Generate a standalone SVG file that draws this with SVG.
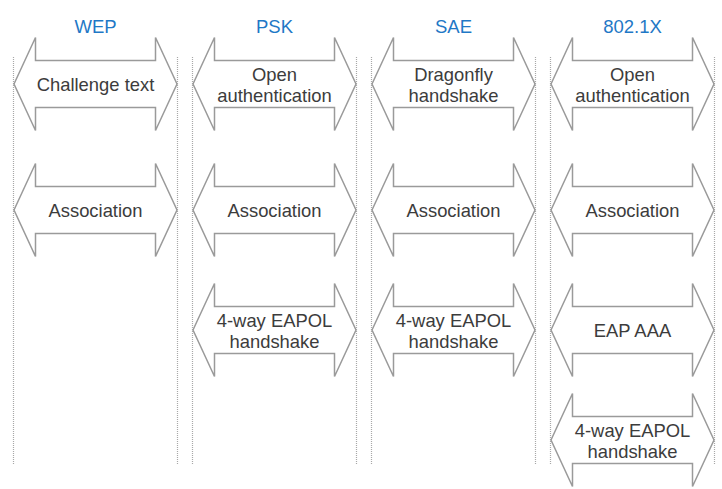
<svg xmlns="http://www.w3.org/2000/svg" width="722" height="489" viewBox="0 0 722 489">
<defs>
<style>
.bg{fill:#ffffff}
.lane{stroke:#a8a8a8;stroke-width:1.2;stroke-dasharray:1 1;fill:none}
.arrow{fill:#ffffff;stroke:#9a9a9a;stroke-width:1.5;stroke-linejoin:miter}
.title{font-family:"Liberation Sans",Arial,sans-serif;font-size:18.5px;fill:#1f78c6;text-anchor:middle}
.lbl{font-family:"Liberation Sans",Arial,sans-serif;font-size:18.4px;fill:#3c3c3c;text-anchor:middle}
</style>
<path id="arr" d="M0,0 L21.5,-46.5 L21.5,-23.5 L141.5,-23.5 L141.5,-46.5 L163,0 L141.5,46.5 L141.5,23.5 L21.5,23.5 L21.5,46.5 Z"/>
</defs>
<rect class="bg" x="0" y="0" width="722" height="489"/>
<g id="lanes">
<line class="lane" x1="13.5" y1="57" x2="13.5" y2="465"/>
<line class="lane" x1="177.5" y1="57" x2="177.5" y2="465"/>
<line class="lane" x1="192.5" y1="57" x2="192.5" y2="465"/>
<line class="lane" x1="356.5" y1="57" x2="356.5" y2="465"/>
<line class="lane" x1="371.5" y1="57" x2="371.5" y2="465"/>
<line class="lane" x1="535.5" y1="57" x2="535.5" y2="465"/>
<line class="lane" x1="550.5" y1="57" x2="550.5" y2="465"/>
<line class="lane" x1="714.5" y1="57" x2="714.5" y2="465"/>
</g>
<g id="titles">
<text class="title" x="95.5" y="33">WEP</text>
<text class="title" x="274.5" y="33">PSK</text>
<text class="title" x="453.5" y="33">SAE</text>
<text class="title" x="632.5" y="33">802.1X</text>
</g>
<g id="wep-challenge"><use href="#arr" class="arrow" x="14" y="84"/><text class="lbl" x="95.5" y="90.5">Challenge text</text></g>
<g id="wep-assoc"><use href="#arr" class="arrow" x="14" y="210"/><text class="lbl" x="95.5" y="216.5">Association</text></g>
<g id="psk-open"><use href="#arr" class="arrow" x="193" y="84"/><text class="lbl" x="274.5" y="81">Open</text><text class="lbl" x="274.5" y="102">authentication</text></g>
<g id="psk-assoc"><use href="#arr" class="arrow" x="193" y="210"/><text class="lbl" x="274.5" y="216.5">Association</text></g>
<g id="psk-4way"><use href="#arr" class="arrow" x="193" y="330"/><text class="lbl" x="274.5" y="327">4-way EAPOL</text><text class="lbl" x="274.5" y="348">handshake</text></g>
<g id="sae-dragonfly"><use href="#arr" class="arrow" x="372" y="84"/><text class="lbl" x="453.5" y="81">Dragonfly</text><text class="lbl" x="453.5" y="102">handshake</text></g>
<g id="sae-assoc"><use href="#arr" class="arrow" x="372" y="210"/><text class="lbl" x="453.5" y="216.5">Association</text></g>
<g id="sae-4way"><use href="#arr" class="arrow" x="372" y="330"/><text class="lbl" x="453.5" y="327">4-way EAPOL</text><text class="lbl" x="453.5" y="348">handshake</text></g>
<g id="x-open"><use href="#arr" class="arrow" x="551" y="84"/><text class="lbl" x="632.5" y="81">Open</text><text class="lbl" x="632.5" y="102">authentication</text></g>
<g id="x-assoc"><use href="#arr" class="arrow" x="551" y="210"/><text class="lbl" x="632.5" y="216.5">Association</text></g>
<g id="x-eap"><use href="#arr" class="arrow" x="551" y="330"/><text class="lbl" x="632.5" y="336.5">EAP AAA</text></g>
<g id="x-4way"><use href="#arr" class="arrow" x="551" y="440"/><text class="lbl" x="632.5" y="437">4-way EAPOL</text><text class="lbl" x="632.5" y="458">handshake</text></g>
</svg>
